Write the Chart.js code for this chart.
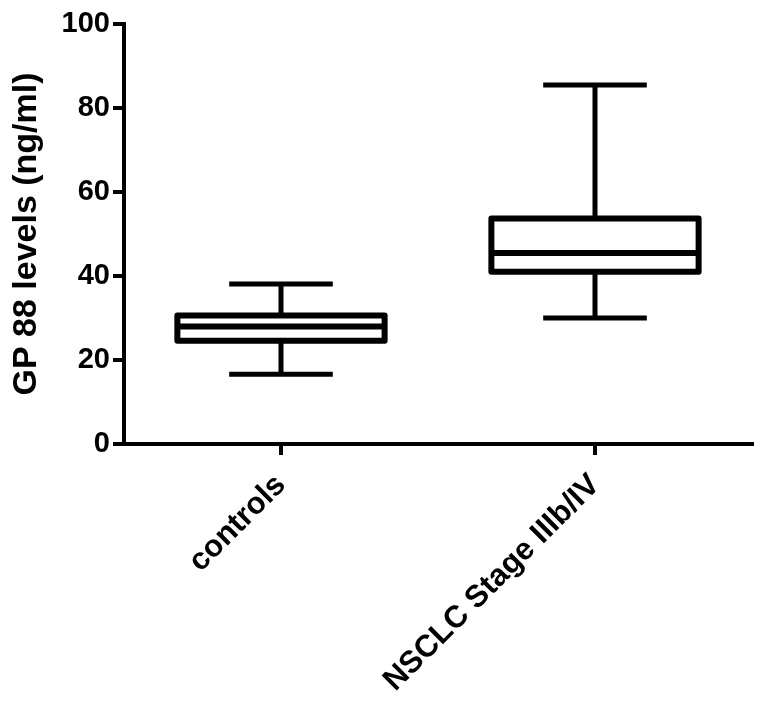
<!DOCTYPE html>
<html>
<head>
<meta charset="utf-8">
<script src="https://cdn.jsdelivr.net/npm/chart.js@4.4.0/dist/chart.umd.min.js"></script>
<style>
  html, body { margin: 0; padding: 0; background: #fff; }
  #wrap { width: 764px; height: 707px; }
</style>
</head>
<body>
<div id="wrap"><canvas id="boxChart"></canvas></div>
<script>
// values
const categories = ['controls', 'NSCLC Stage IIIb/IV']
const whiskerLow = [16.6, 30.0]
const q1 = [24.6, 41.0]
const median = [28.0, 45.5]
const q3 = [30.6, 53.7]
const whiskerHigh = [38.1, 85.5]
const yTicks = [0, 20, 40, 60, 80, 100]

const FONT = "'Liberation Sans', Arial, sans-serif"

// whiskers go under the box, outline + median on top; all placed with the chart scales
const boxExtras = {
    id: 'boxExtras',
    beforeDatasetsDraw(chart) {
        const ctx = chart.ctx
        const x = chart.scales.x, y = chart.scales.y
        const catW = x.getPixelForValue(1) - x.getPixelForValue(0)
        ctx.save()
        ctx.strokeStyle = '#000'
        ctx.lineWidth = 5
        categories.forEach((c, i) => {
            const cx = x.getPixelForValue(i)
            const half = catW * 0.165
            const lo = y.getPixelForValue(whiskerLow[i])
            const hi = y.getPixelForValue(whiskerHigh[i])
            ctx.beginPath()
            ctx.moveTo(cx, lo)
            ctx.lineTo(cx, hi)
            ctx.moveTo(cx - half, lo)
            ctx.lineTo(cx + half, lo)
            ctx.moveTo(cx - half, hi)
            ctx.lineTo(cx + half, hi)
            ctx.stroke()
        })
        ctx.restore()
    },
    afterDatasetsDraw(chart) {
        const ctx = chart.ctx
        const y = chart.scales.y
        const meta = chart.getDatasetMeta(0)
        ctx.save()
        ctx.strokeStyle = '#000'
        ctx.lineWidth = 6
        ctx.lineJoin = 'round'
        meta.data.forEach((bar, i) => {
            const h = bar.width / 2
            const top = Math.min(bar.y, bar.base), bot = Math.max(bar.y, bar.base)
            ctx.strokeRect(bar.x - h, top, bar.width, bot - top)
            const py = y.getPixelForValue(median[i])
            ctx.beginPath()
            ctx.moveTo(bar.x - h, py)
            ctx.lineTo(bar.x + h, py)
            ctx.stroke()
        })
        ctx.restore()
    }
}

new Chart(document.getElementById('boxChart'), {
    type: 'bar',
    data: {
        labels: categories,
        datasets: [{
            label: 'GP 88',
            data: q1.map((v, i) => [v, q3[i]]),
            backgroundColor: '#fff',
            borderWidth: 0,
            barPercentage: 0.66,
            categoryPercentage: 1
        }]
    },
    options: {
        responsive: true,
        maintainAspectRatio: false,
        animation: false,
        layout: { padding: { top: 24, right: 12, left: 0, bottom: 0 } },
        plugins: {
            legend: { display: false },
            tooltip: { enabled: false }
        },
        scales: {
            x: {
                offset: true,
                grid: { display: true, drawOnChartArea: false, drawTicks: true, tickLength: 11, lineWidth: 4, color: '#000', offset: false },
                border: { display: true, color: '#000', width: 4 },
                ticks: {
                    color: '#000',
                    font: { family: FONT, size: 31, weight: 'bold' },
                    minRotation: 45,
                    maxRotation: 45,
                    padding: 12
                },
                afterFit(scale) { scale.height = 263 }
            },
            y: {
                min: 0,
                max: 100,
                afterBuildTicks(scale) { scale.ticks = yTicks.map(v => ({ value: v })) },
                grid: { display: true, drawOnChartArea: false, drawTicks: true, tickLength: 11, lineWidth: 4, color: '#000' },
                border: { display: true, color: '#000', width: 4 },
                ticks: {
                    color: '#000',
                    font: { family: FONT, size: 29, weight: 'bold' },
                    padding: 3
                },
                title: {
                    display: true,
                    text: 'GP 88 levels (ng/ml)',
                    color: '#000',
                    font: { family: FONT, size: 34, weight: 'bold' },
                    padding: { top: 6, bottom: 0 }
                },
                afterFit(scale) { scale.width = 124 }
            }
        }
    },
    plugins: [boxExtras]
})
</script>
</body>
</html>
